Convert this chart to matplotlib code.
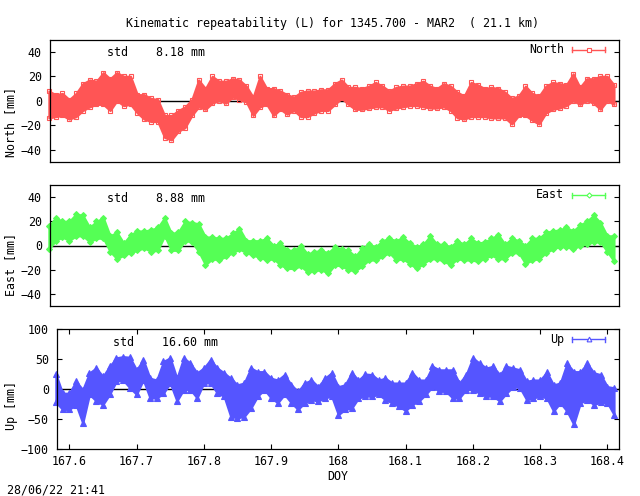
import matplotlib
matplotlib.use("Agg")
import matplotlib.pyplot as plt

plt.rcParams['font.family'] = ['DejaVu Sans Mono']
plt.rcParams['font.size'] = 8.4

W, H = 640, 496

doy = [167.58, 167.59, 167.60, 167.61, 167.62, 167.63, 167.64, 167.65, 167.66, 167.67,
       167.68, 167.69, 167.70, 167.71, 167.72, 167.73, 167.74, 167.75, 167.76, 167.77,
       167.78, 167.79, 167.80, 167.81, 167.82, 167.83, 167.84, 167.85, 167.86, 167.87,
       167.88, 167.89, 167.90, 167.91, 167.92, 167.93, 167.94, 167.95, 167.96, 167.97,
       167.98, 167.99, 168.00, 168.01, 168.02, 168.03, 168.04, 168.05, 168.06, 168.07,
       168.08, 168.09, 168.10, 168.11, 168.12, 168.13, 168.14, 168.15, 168.16, 168.17,
       168.18, 168.19, 168.20, 168.21, 168.22, 168.23, 168.24, 168.25, 168.26, 168.27,
       168.28, 168.29, 168.30, 168.31, 168.32, 168.33, 168.34, 168.35, 168.36, 168.37,
       168.38, 168.39, 168.40, 168.41]

# upper and lower edge of the point cloud (mm)
north_hi = [8, 5, 6, 1, 6, 14, 17, 16, 23, 18, 23, 20, 20, 5, 5, 2, 1, -12, -12, -8,
            -5, 1, 17, 10, 20, 16, 16, 18, 17, 12, 3, 20, 10, 10, 8, 5, 3, 7, 8, 8,
            9, 9, 14, 17, 11, 11, 10, 12, 15, 12, 8, 11, 12, 12, 14, 16, 12, 10, 14, 12,
            7, 4, 15, 13, 10, 11, 10, 7, 2, 4, 12, 6, 4, 12, 15, 14, 13, 22, 11, 18,
            18, 20, 20, 13]
north_lo = [-14, -13, -12, -15, -13, -8, -5, -3, -3, -8, 0, -4, -3, -10, -15, -17, -17, -30, -32, -25,
            -22, -12, -5, -7, -2, 0, -2, 3, 1, -1, -12, -5, -3, -12, -7, -11, -8, -13, -13, -10,
            -8, -8, -3, 2, -3, -7, -7, -6, -5, -5, -8, -6, -5, -4, -4, -5, -6, -6, -5, -8,
            -14, -15, -13, -13, -13, -14, -14, -14, -19, -12, -12, -16, -19, -10, -7, -6, -4, 0, -3, 0,
            -2, -7, 0, -3]

east_hi = [16, 23, 20, 20, 26, 25, 15, 20, 23, 8, 11, 2, 9, 12, 12, 13, 15, 23, 10, 11,
           20, 19, 18, 7, 7, 6, 6, 10, 14, 4, 4, 4, 6, 0, 2, -4, -4, 0, -7, -5,
           -4, -6, -1, -3, -4, -9, -2, 1, -1, 4, 6, 4, 7, 2, -1, 1, 8, 1, 1, -1,
           4, 1, 6, 2, 3, 6, 9, 1, 6, 4, 0, 6, 6, 11, 12, 13, 15, 12, 17, 20,
           25, 19, 8, 8]
east_lo = [-3, 4, 7, 4, 8, 8, 3, 6, 6, -5, -11, -8, -6, -4, -2, -5, -4, 8, -4, -4,
           4, 3, -5, -16, -11, -12, -9, -6, -3, -6, -8, -10, -12, -11, -16, -19, -19, -17, -22, -21,
           -20, -23, -16, -17, -20, -21, -17, -12, -12, -9, -6, -12, -11, -15, -19, -15, -11, -11, -13, -16,
           -11, -12, -12, -13, -11, -8, -11, -11, -6, -6, -15, -12, -11, -6, -3, -1, -1, -3, 0, 1,
           3, 3, -5, -13]

up_hi = [25, -7, -7, 13, -1, 27, 35, 21, 38, 52, 54, 53, 32, 49, 18, 15, 46, 52, 18, 52,
         43, 27, 35, 49, 35, 27, 18, 7, 10, 35, 29, 29, 18, 15, 24, 7, -4, 10, 15, 4,
         18, 27, 4, 7, 27, 15, 25, 24, 15, 18, 10, 10, 10, 27, 15, 15, 38, 32, 32, 32,
         10, 24, 52, 43, 35, 38, 24, 38, 35, 32, 13, 15, 15, 28, 7, 10, 43, 29, 29, 43,
         27, 24, 4, 2]
up_lo = [-22, -34, -34, -26, -57, -9, -20, -26, -9, 13, 15, 2, -9, 15, -15, -15, -7, 10, -20, -1,
         -1, -15, 10, 10, -7, -12, -46, -48, -46, -32, -12, -1, -15, -23, -9, -23, -34, -23, -18, -20,
         -15, -12, -43, -34, -32, -15, -12, -12, -9, -18, -23, -29, -36, -26, -20, -9, 4, -4, -4, -15,
         -15, -1, -1, -7, -12, -12, -20, -7, 4, 2, -18, -15, -12, -15, -37, -23, -37, -59, -23, -18,
         -26, -22, -23, -43]

panel_names = ['North', 'East', 'Up']
panel_std = ['8.18', '8.88', '16.60']
xticks = [167.6, 167.7, 167.8, 167.9, 168, 168.1, 168.2, 168.3, 168.4]
xtick_labels = ['167.6', '167.7', '167.8', '167.9', '168', '168.1', '168.2', '168.3', '168.4']


def px_axes(fig, left, top, right, bottom):
    return fig.add_axes([left / W, 1 - bottom / H, (right - left) / W, (bottom - top) / H])


def panel(ax, hi, lo, color, marker, fill, ms, lim, yticks, pad):
    ax.set_xlim(167.581, 168.4166)
    ax.set_ylim(*lim)
    ax.axhline(0, color='black', lw=1.0, zorder=1)
    ax.fill_between(doy, lo, hi, color=color, lw=1.5, zorder=2, clip_on=False)
    face = color if fill else 'none'
    ax.plot(doy, hi, ls='none', marker=marker, ms=ms, mfc=face, mec=color, mew=0.8, zorder=3, clip_on=False)
    ax.plot(doy, lo, ls='none', marker=marker, ms=ms, mfc=face, mec=color, mew=0.8, zorder=3, clip_on=False)
    ax.set_yticks(yticks)
    ax.tick_params(axis='y', direction='in', length=3.8, width=0.8, right=True, pad=pad)
    for s in ax.spines.values():
        s.set_linewidth(0.9)
        s.set_zorder(4)


def legend_entry(fig, name, y, color, marker, ms):
    fig.text(564 / W, 1 - y / H, name, ha='right', va='center')
    fig.add_artist(plt.Line2D([572 / W, 605 / W], [1 - y / H, 1 - y / H], color=color, lw=1.0))
    for xp in (572, 605):
        fig.add_artist(plt.Line2D([xp / W, xp / W], [1 - (y - 2.5) / H, 1 - (y + 2.5) / H], color=color, lw=1.0))
    fig.add_artist(plt.Line2D([588.5 / W], [1 - y / H], ls='none', marker=marker, ms=ms,
                              mfc='white', mec=color, mew=0.8))


fig = plt.figure(figsize=(6.4, 4.96), dpi=100)

ax1 = px_axes(fig, 49.5, 39.5, 618.5, 162)
ax2 = px_axes(fig, 49.5, 185, 618.5, 306)
ax3 = px_axes(fig, 56.5, 329, 618.5, 449)

RED, GREEN, BLUE = '#ff5555', '#55ff55', '#5555ff'

panel(ax1, north_hi, north_lo, RED, 's', False, 3.4, (-50, 50), [-40, -20, 0, 20, 40], 5.5)
panel(ax2, east_hi, east_lo, GREEN, 'D', True, 3.0, (-50, 50), [-40, -20, 0, 20, 40], 5.5)
panel(ax3, up_hi, up_lo, BLUE, '^', True, 4.0, (-100, 100), [-100, -50, 0, 50, 100], 5.5)

for ax in (ax1, ax2):
    ax.set_xticks([])
ax3.set_xticks(xticks)
ax3.set_xticklabels(xtick_labels)
ax3.tick_params(axis='x', direction='in', length=3.8, width=0.8, top=True, pad=4.5)

fig.text(333 / W, 1 - 23.5 / H, 'Kinematic repeatability (L) for 1345.700 - MAR2  ( 21.1 km)', ha='center', va='center')

fig.text(107 / W, 1 - 52 / H, 'std    %s mm' % panel_std[0], va='center')
fig.text(107 / W, 1 - 198 / H, 'std    %s mm' % panel_std[1], va='center')
fig.text(113 / W, 1 - 342 / H, 'std    %s mm' % panel_std[2], va='center')

fig.text(11 / W, 1 - 122 / H, 'North [mm]', rotation=90, ha='center', va='center')
fig.text(11 / W, 1 - 265 / H, 'East [mm]', rotation=90, ha='center', va='center')
fig.text(11 / W, 1 - 405 / H, 'Up [mm]', rotation=90, ha='center', va='center')

legend_entry(fig, panel_names[0], 49.5, RED, 's', 3.4)
legend_entry(fig, panel_names[1], 195, GREEN, 'D', 2.6)
legend_entry(fig, panel_names[2], 339, BLUE, '^', 3.4)

fig.text(337.5 / W, 1 - 477 / H, 'DOY', ha='center', va='center')
fig.text(7 / W, 1 - 490 / H, '28/06/22 21:41', va='center')

fig.savefig('out.png', dpi=100)
